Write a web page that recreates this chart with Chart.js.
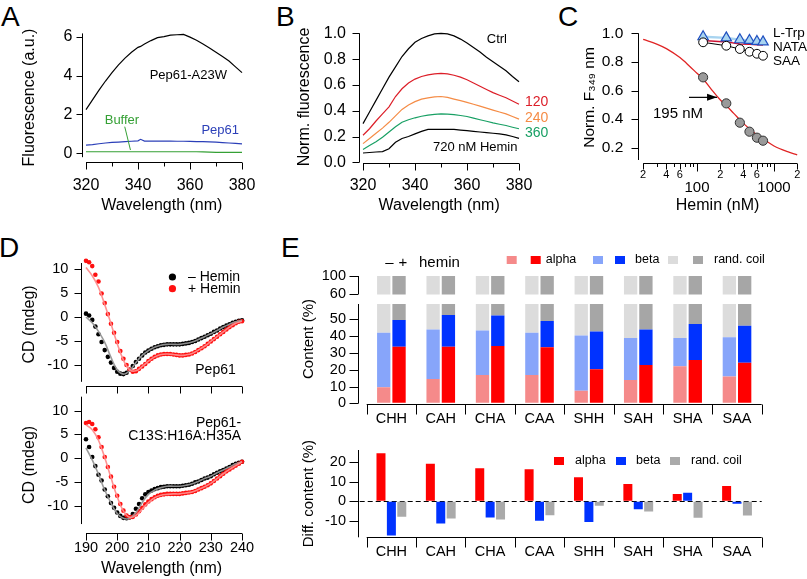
<!DOCTYPE html>
<html><head><meta charset="utf-8">
<script src="https://cdn.jsdelivr.net/npm/chart.js@4.4.1/dist/chart.umd.min.js"></script>
<style>
html,body{margin:0;padding:0;background:#fff}
body{width:807px;height:579px;position:relative;overflow:hidden;font-family:"Liberation Sans",Arial,Helvetica,sans-serif}
canvas{position:absolute}
.pl{position:absolute;font-size:28px;line-height:28px;color:#000}
</style></head><body>
<div class="pl" style="left:1px;top:3px">A</div>
<div class="pl" style="left:276px;top:3px">B</div>
<div class="pl" style="left:558px;top:3px">C</div>
<div class="pl" style="left:-1px;top:234px">D</div>
<div class="pl" style="left:281px;top:234px">E</div>
<canvas id="cA"></canvas><canvas id="cB"></canvas><canvas id="cC"></canvas>
<canvas id="cD1"></canvas><canvas id="cD2"></canvas>
<canvas id="cE1"></canvas><canvas id="cE2"></canvas><canvas id="cE3"></canvas>
<script>
// ================= DATA =================
// Panel A
const A_WL = [320,322.5,325,327.5,330,332.5,335,337.5,340,341,342.5,345,347.5,350,352.5,355,357.5,360,362.5,365,367.5,370,372.5,375,377.5,380];
const A_PEP61_A23W = [2.25,2.75,3.25,3.72,4.15,4.55,4.9,5.2,5.45,5.5,5.62,5.8,5.95,6.0,6.08,6.1,6.12,5.98,5.82,5.62,5.42,5.2,4.98,4.75,4.45,4.15];
const A_PEP61 = [0.42,0.45,0.49,0.53,0.56,0.58,0.6,0.62,0.64,0.72,0.63,0.63,0.63,0.63,0.63,0.62,0.62,0.61,0.6,0.6,0.59,0.57,0.55,0.53,0.51,0.48];
const A_BUFFER = [0.08,0.08,0.08,0.08,0.08,0.08,0.08,0.08,0.08,0.08,0.08,0.08,0.08,0.08,0.08,0.08,0.08,0.08,0.08,0.07,0.06,0.05,0.05,0.05,0.05,0.05];
const A_XTICKS = [320,340,360,380];
const A_XMINOR = [330,350,370];
const A_YTICKS = [0,2,4,6];

// Panel B
const B_WL = [320,322.5,325,327.5,330,332.5,335,337.5,340,342.5,345,347.5,350,352.5,355,357.5,360,362.5,365,367.5,370,372.5,375,377.5,380];
const B_CTRL = [0.30,0.39,0.48,0.57,0.66,0.74,0.82,0.88,0.93,0.96,0.98,0.995,1.0,0.995,0.98,0.955,0.925,0.89,0.855,0.815,0.78,0.745,0.71,0.665,0.625];
const B_120 = [0.21,0.26,0.32,0.375,0.43,0.51,0.57,0.615,0.645,0.665,0.678,0.686,0.69,0.685,0.675,0.66,0.64,0.615,0.59,0.565,0.54,0.52,0.50,0.475,0.45];
const B_240 = [0.145,0.185,0.225,0.265,0.31,0.36,0.41,0.445,0.47,0.49,0.50,0.507,0.51,0.503,0.49,0.478,0.465,0.45,0.435,0.42,0.405,0.39,0.375,0.355,0.335];
const B_360 = [0.10,0.13,0.16,0.195,0.235,0.275,0.31,0.33,0.345,0.357,0.365,0.372,0.375,0.374,0.37,0.363,0.355,0.343,0.33,0.318,0.305,0.295,0.285,0.272,0.26];
const B_720 = [0.072,0.076,0.08,0.083,0.105,0.155,0.185,0.2,0.22,0.24,0.255,0.256,0.255,0.256,0.255,0.25,0.245,0.24,0.235,0.23,0.225,0.22,0.213,0.2,0.185];
const B_XTICKS = [320,340,360,380];
const B_XMINOR = [330,350,370];
const B_YTICKS = [0,0.2,0.4,0.6,0.8,1.0];

// Panel C
const C_CONC = [120,240,360,480,600,720];
const C_PEP61 = [0.692,0.51,0.375,0.312,0.27,0.249];
const C_LTRP = [0.976,0.968,0.955,0.95,0.943,0.94];
const C_NATA = [0.95,0.94,0.925,0.923,0.92,0.918];
const C_SAA = [0.937,0.913,0.89,0.871,0.857,0.843];
const C_FIT_X = [20,30,40,60,80,100,120,150,200,240,300,400,500,600,800,1000,1500,2000];
const C_FIT_Y = [0.957,0.925,0.893,0.83,0.77,0.72,0.68,0.615,0.535,0.495,0.44,0.37,0.325,0.29,0.245,0.212,0.172,0.15];
const C_XTICKS = [20,40,60,100,200,400,600,1000,2000];
const C_XLABELS = ['2','4','6','100','2','4','6','1000','2'];
const C_XMINOR = [30,50,70,80,90,300,500,700,800,900];
const C_YTICKS = [0.2,0.4,0.6,0.8,1.0];

// Panel D
const D_WL = [190,191,192,193,194,195,196,197,198,199,200,201,202,203,204,205,206,207,208,209,210,211,212,213,214,215,216,217,218,219,220,221,222,223,224,225,226,227,228,229,230,231,232,233,234,235,236,237,238,239,240];
const D1_MINUS = [0.7,0.3,-0.6,-2.0,-3.6,-5.2,-6.9,-8.3,-9.5,-10.6,-11.4,-11.8,-11.9,-11.6,-11.0,-10.2,-9.4,-8.7,-8.0,-7.4,-7.0,-6.6,-6.3,-6.1,-5.9,-5.8,-5.7,-5.7,-5.7,-5.7,-5.7,-5.6,-5.5,-5.4,-5.2,-5.0,-4.7,-4.4,-4.1,-3.8,-3.5,-3.1,-2.8,-2.4,-2.1,-1.8,-1.5,-1.2,-1.0,-0.8,-0.7];
const D1_PLUS = [11.7,11.4,10.6,8.8,7.4,4.9,2.9,0.6,-1.4,-3.3,-5.2,-7.1,-8.7,-10.0,-11.0,-11.4,-11.3,-10.8,-10.3,-9.8,-9.2,-8.7,-8.3,-8.0,-7.8,-7.7,-7.7,-7.7,-7.8,-7.9,-8.0,-8.0,-7.9,-7.8,-7.6,-7.3,-6.9,-6.5,-6.1,-5.6,-5.1,-4.6,-4.1,-3.6,-3.1,-2.6,-2.1,-1.7,-1.3,-1.0,-0.9];
const D2_MINUS = [4.0,2.4,0.3,-1.6,-3.4,-4.6,-6.5,-7.9,-9.3,-10.3,-11.3,-12.0,-12.4,-12.5,-12.3,-11.6,-10.5,-9.5,-8.3,-7.5,-7.0,-6.7,-6.4,-6.2,-6.0,-5.9,-5.8,-5.8,-5.8,-5.8,-5.8,-5.7,-5.6,-5.5,-5.3,-5.0,-4.8,-4.5,-4.2,-4.0,-3.7,-3.3,-3.0,-2.7,-2.4,-2.1,-1.8,-1.4,-1.1,-0.9,-0.7];
const D2_PLUS = [7.4,7.6,7.2,6.1,4.4,2.4,0.3,-1.8,-3.8,-5.9,-7.8,-9.5,-10.9,-11.9,-12.3,-12.2,-11.7,-11.0,-10.3,-9.6,-9.0,-8.5,-8.1,-7.8,-7.6,-7.5,-7.4,-7.4,-7.4,-7.4,-7.4,-7.3,-7.2,-7.1,-7.0,-6.8,-6.5,-6.2,-5.9,-5.6,-5.2,-4.7,-4.2,-3.7,-3.2,-2.7,-2.3,-1.9,-1.5,-1.1,-0.7];
const D_FIT_WL = [190,192,194,196,198,200,202,204,206,208,210,212,214,216,218,220,222,224,226,228,230,232,234,236,238,240];
const D1_MINUS_FIT = [0.0,-1.2,-3.0,-5.3,-8.4,-11.0,-11.9,-11.2,-9.5,-8.0,-7.0,-6.3,-5.9,-5.7,-5.7,-5.7,-5.5,-5.2,-4.7,-4.1,-3.5,-2.8,-2.1,-1.5,-1.0,-0.7];
const D1_PLUS_FIT = [10.3,8.6,6.2,2.6,-1.4,-5.5,-9.0,-11.0,-11.2,-10.3,-9.2,-8.3,-7.8,-7.7,-7.8,-8.0,-7.9,-7.6,-6.9,-6.1,-5.1,-4.1,-3.1,-2.1,-1.3,-0.9];
const D2_MINUS_FIT = [2.2,-0.3,-3.3,-6.6,-9.3,-11.5,-12.5,-12.5,-11.3,-9.2,-7.5,-6.6,-6.1,-5.8,-5.8,-5.8,-5.6,-5.3,-4.8,-4.2,-3.7,-3.0,-2.4,-1.8,-1.1,-0.7];
const D2_PLUS_FIT = [7.0,6.0,3.8,0.2,-4.0,-8.0,-11.0,-12.3,-11.9,-10.6,-9.2,-8.2,-7.7,-7.5,-7.4,-7.4,-7.2,-7.0,-6.5,-5.9,-5.2,-4.2,-3.2,-2.3,-1.5,-0.7];
const D_XTICKS = [190,200,210,220,230,240];
const D_YTICKS = [-10,-5,0,5,10];

// Panel E
const E_CATS = ['CHH','CAH','CHA','CAA','SHH','SAH','SHA','SAA'];
const E_ALPHA_MINUS = [9.5,14.5,16.9,16.9,7.5,13.9,22,16];
const E_BETA_MINUS  = [32.5,29.5,26.4,25.1,32.8,25,16.9,23.3];
const E_COIL_MINUS  = [58,56,56.7,58,59.7,61.1,61.1,60.7];
const E_ALPHA_PLUS  = [33.7,33.7,34.1,33.3,20.2,22.8,25.8,24.2];
const E_BETA_PLUS   = [15.9,18.9,18.1,15.7,22.5,21.2,21.4,22];
const E_COIL_PLUS   = [50.4,47.4,47.8,51,57.3,56,52.8,53.8];
const E_DIFF_ALPHA  = [24.3,19,16.7,16.2,12.2,8.8,3.7,7.7];
const E_DIFF_BETA   = [-17.3,-11.2,-8.2,-9.8,-10.5,-4,4.3,-1.3];
const E_DIFF_COIL   = [-7.8,-8.7,-9.2,-7,-2.3,-5.2,-8.3,-7.2];
const E_UPPER_TICKS = [60,100];
const E_LOWER_TICKS = [0,10,20,30,40,50];
const E_DIFF_TICKS  = [-10,0,10,20];

// ================= HELPERS =================
const FONT = "'Liberation Sans', Arial, Helvetica, sans-serif";
Chart.defaults.font.family = FONT;
Chart.defaults.color = '#000';

function ext(v1,p1,v2,p2,p){ return v1 + (p-p1)*(v2-v1)/(p2-p1); }
function extLog(v1,p1,v2,p2,p){ return Math.pow(10, ext(Math.log10(v1),p1,Math.log10(v2),p2,p)); }
function pts(xs, ys){ return xs.map((x,i)=>({x:x, y:ys[i]})); }

function axis(o){
  const a = {
    type:o.type||'linear', min:o.min, max:o.max, display:o.display!==false,
    grid:{display:true, drawOnChartArea:false, drawTicks:true, tickLength:o.pad||0,
      color:'rgba(0,0,0,0)', tickColor:'rgba(0,0,0,0)'},
    border:{display:false},
    ticks:{autoSkip:false, maxRotation:0, minRotation:0, padding:0, color:'#000',
      display:o.labels!==false, font:o.font||{size:o.size||15}},
    title:o.title ? {display:true, text:o.title, color:'#000', font:{size:o.tsize||16},
      padding:{top:o.tpad||0, bottom:o.tpad||0}} : {display:false}
  };
  if (o.stacked) a.stacked = true;
  if (o.ticksAt) a.afterBuildTicks = s => { s.ticks = o.ticksAt.map(v=>({value:v})); };
  if (o.fmt) a.ticks.callback = o.fmt;
  return a;
}

function igor(box, cfg){
  return {
    id:'igor',
    beforeDatasetsDraw(chart){
      if(!cfg.zero) return;
      const ctx=chart.ctx, ca=chart.chartArea, ys=chart.scales.y;
      const y=Math.round(ys.getPixelForValue(0))+0.5;
      ctx.save(); ctx.strokeStyle='#000'; ctx.lineWidth=1; ctx.setLineDash([5,3]);
      ctx.beginPath(); ctx.moveTo(ca.left-cfg.zero.lead,y); ctx.lineTo(ca.right,y); ctx.stroke(); ctx.restore();
    },
    afterDraw(chart){
      const ctx=chart.ctx, ca=chart.chartArea, xs=chart.scales.x, ys=chart.scales.y;
      const R=v=>Math.round(v)+0.5;
      const seg=(a,b,c,d)=>{ctx.beginPath();ctx.moveTo(a,b);ctx.lineTo(c,d);ctx.stroke();};
      ctx.save(); ctx.strokeStyle='#000'; ctx.fillStyle='#000'; ctx.lineWidth=1;
      const ya=cfg.y;
      if(ya){
        const x=R(ca.left-(ya.off||0));
        const y1=ya.from!=null?ys.getPixelForValue(ya.from):ca.bottom;
        const y2=ya.to!=null?ys.getPixelForValue(ya.to):ca.top;
        seg(x,y1,x,y2);
        ya.ticks.forEach(v=>{const y=R(ys.getPixelForValue(v)); seg(x,y,x-ya.len,y);});
      }
      const xa=cfg.x;
      if(xa){
        const y=R(ca.bottom+(xa.off||0));
        const x1=xa.from!=null?xs.getPixelForValue(xa.from):ca.left;
        const x2=xa.to!=null?xs.getPixelForValue(xa.to):ca.right;
        seg(x1,y,x2,y);
        xa.ticks.forEach(t=>{const x=R(xs.getPixelForValue(t[0])); seg(x,y,x,y+t[1]);});
      }
      (cfg.items||[]).forEach(it=>{
        const px=it.gx!=null?it.gx-box.l:xs.getPixelForValue(it.x);
        const py=it.gy!=null?it.gy-box.t:ys.getPixelForValue(it.y);
        ctx.fillStyle=ctx.strokeStyle=it.color||'#000';
        if(it.t!=null){
          ctx.font=(it.size||13)+'px '+FONT;
          ctx.textAlign=it.align||'left'; ctx.textBaseline='middle';
          if(it.rot){ctx.save();ctx.translate(px,py);ctx.rotate(it.rot);ctx.fillText(it.t,0,0);ctx.restore();}
          else ctx.fillText(it.t,px,py);
        } else if(it.dot){
          ctx.beginPath(); ctx.arc(px,py,it.dot,0,Math.PI*2); ctx.fill();
        } else if(it.rect){
          ctx.fillRect(px,py,it.rect[0],it.rect[1]);
        } else if(it.to){
          const qx=it.to.gx!=null?it.to.gx-box.l:xs.getPixelForValue(it.to.x);
          const qy=it.to.gy!=null?it.to.gy-box.t:ys.getPixelForValue(it.to.y);
          ctx.lineWidth=it.w||1; seg(px,py,qx,qy);
          if(it.arrow){
            const a=Math.atan2(qy-py,qx-px), L=it.arrow[0], W=it.arrow[1];
            const bx=qx-L*Math.cos(a), by=qy-L*Math.sin(a);
            ctx.beginPath(); ctx.moveTo(qx,qy);
            ctx.lineTo(bx+W*Math.sin(a), by-W*Math.cos(a));
            ctx.lineTo(bx-W*Math.sin(a), by+W*Math.cos(a));
            ctx.closePath(); ctx.fill();
          }
          ctx.lineWidth=1;
        }
      });
      ctx.restore();
    }
  };
}

function mk(id, box, area, config, plug){
  const cv=document.getElementById(id);
  cv.width=box.w; cv.height=box.h; cv.style.left=box.l+'px'; cv.style.top=box.t+'px';
  const o=config.options;
  o.responsive=false; o.maintainAspectRatio=false; o.animation=false; o.events=[];
  o.plugins={legend:{display:false}, tooltip:{enabled:false}};
  const xHidden=o.scales.x.display===false;
  o.layout={padding:{left:0, top:area.t-box.t, right:box.l+box.w-area.r, bottom:xHidden?box.t+box.h-area.b:0}};
  const yw=area.l-box.l, xh=box.t+box.h-area.b;
  o.scales.y.afterFit=s=>{s.width=yw;};
  if(!xHidden) o.scales.x.afterFit=s=>{s.height=xh;};
  config.plugins=[igor(box, plug)];
  return new Chart(cv, config);
}
function line(xs, ys, color, w, extra){
  return Object.assign({data:pts(xs,ys), showLine:true, borderColor:color, borderWidth:w||1.2,
    pointRadius:0, pointHoverRadius:0, fill:false, tension:0, clip:false}, extra||{});
}
function dots(xs, ys, color, r, extra){
  return Object.assign({data:pts(xs,ys), showLine:false, pointRadius:r, pointHoverRadius:r,
    pointBackgroundColor:color, pointBorderColor:color, pointBorderWidth:0, clip:false}, extra||{});
}

// ================= PANEL A =================
(function(){
  const box={l:0,t:0,w:265,h:216}, area={l:81.5,t:33,r:242,b:162};
  mk('cA', box, area, {
    type:'scatter',
    data:{datasets:[
      line(A_WL, A_PEP61_A23W, '#000', 1.2),
      line(A_WL, A_PEP61, '#2b3fb8', 1.2),
      line(A_WL, A_BUFFER, '#35a035', 1.2)
    ]},
    options:{scales:{
      x:axis({min:ext(320,86,380,242,area.l), max:380, ticksAt:A_XTICKS, size:16, pad:14.4, title:'Wavelength (nm)', tpad:0.4}),
      y:axis({min:ext(0,153.3,6,36.7,area.b), max:ext(0,153.3,6,36.7,area.t), ticksAt:A_YTICKS, size:16, pad:9, title:'Fluorescence (a.u.)', tpad:20.4})
    }}
  }, {
    y:{from:-0.2, to:6.17, ticks:A_YTICKS, len:6},
    x:{from:320, to:380, ticks:A_XTICKS.map(v=>[v,7]).concat(A_XMINOR.map(v=>[v,4]))},
    items:[
      {t:'Pep61-A23W', x:344.5, y:4.03, size:13},
      {t:'Buffer', x:327.2, y:1.71, size:13, color:'#35a035'},
      {x:334.9, y:1.37, to:{x:337.1, y:0.17}, color:'#35a035'},
      {t:'Pep61', x:364.4, y:1.2, size:13, color:'#2b3fb8'}
    ]
  });
})();

// ================= PANEL B =================
(function(){
  const box={l:262,t:0,w:290,h:216}, area={l:359.3,t:31,r:519,b:163};
  mk('cB', box, area, {
    type:'scatter',
    data:{datasets:[
      line(B_WL, B_CTRL, '#000', 1.2),
      line(B_WL, B_120, '#dc1e28', 1.2),
      line(B_WL, B_240, '#f58c46', 1.2),
      line(B_WL, B_360, '#18a064', 1.2),
      line(B_WL, B_720, '#000', 1.2)
    ]},
    options:{scales:{
      x:axis({min:ext(320,363,380,519,area.l), max:380, ticksAt:B_XTICKS, size:16, pad:12.9, title:'Wavelength (nm)', tpad:0.4}),
      y:axis({min:ext(0,162.3,1,33.3,area.b), max:ext(0,162.3,1,33.3,area.t), ticksAt:B_YTICKS, size:16, pad:13.3, fmt:v=>v.toFixed(1), title:'Norm. fluorescence', tpad:33.4})
    }}
  }, {
    y:{from:0, to:1.0, ticks:B_YTICKS, len:7},
    x:{from:320, to:380, ticks:B_XTICKS.map(v=>[v,7]).concat(B_XMINOR.map(v=>[v,4]))},
    items:[
      {t:'Ctrl', x:367.6, y:0.956, size:13},
      {t:'120', x:382.3, y:0.47, size:14, color:'#dc1e28'},
      {t:'240', x:382.3, y:0.343, size:14, color:'#f58c46'},
      {t:'360', x:382.3, y:0.227, size:14, color:'#18a064'},
      {t:'720 nM Hemin', x:346.9, y:0.115, size:13}
    ]
  });
})();

// ================= PANEL C =================
(function(){
  const box={l:545,t:0,w:262,h:216}, area={l:638,t:32,r:797.2,b:163};
  const big=[100,1000];
  mk('cC', box, area, {
    type:'scatter',
    data:{datasets:[
      dots(C_CONC, C_PEP61, '#9a9a9a', 4.6, {pointBorderColor:'#333', pointBorderWidth:1, order:1}),
      line(C_CONC, C_SAA, '#000', 1, {pointRadius:4.4, pointBackgroundColor:'#fff', pointBorderColor:'#000', pointBorderWidth:1, order:2}),
      line(C_CONC, C_LTRP, '#a8d4f0', 2.5, {pointStyle:'triangle', pointRadius:6, pointBackgroundColor:'#a8d4f0', pointBorderColor:'#2050c0', pointBorderWidth:1.2, order:3}),
      line(C_CONC, C_NATA, '#cc1133', 1.5, {order:4}),
      line(C_FIT_X, C_FIT_Y, '#e02424', 1.3, {cubicInterpolationMode:'monotone', order:5})
    ]},
    options:{scales:{
      x:axis({type:'logarithmic', min:extLog(100,697,1000,774,area.l), max:2000, ticksAt:C_XTICKS, pad:5.4,
        font:ctx=>(ctx.tick && big.indexOf(ctx.tick.value)>=0)?{size:15, lineHeight:0.85}:{size:11},
        fmt:(v)=>{const i=C_XTICKS.indexOf(v); const s=C_XLABELS[i]; return big.indexOf(v)>=0?['',s]:s;},
        title:'Hemin (nM)', tpad:0.4}),
      y:axis({min:ext(1,33.3,0.2,147.7,area.b), max:ext(1,33.3,0.2,147.7,area.t), ticksAt:C_YTICKS, size:15.5, pad:14.7, fmt:v=>v.toFixed(1), title:'Norm. F\u2083\u2084\u2089 nm', tsize:15.5, tpad:35.7})
    }}
  }, {
    y:{from:0.114, to:1.0, ticks:C_YTICKS, len:7},
    x:{from:20, to:2000, ticks:C_XTICKS.map(v=>[v, big.indexOf(v)>=0?8:6]).concat(C_XMINOR.map(v=>[v,3.5]))},
    items:[
      {t:'L-Trp', x:970, y:1.002, size:13.5},
      {t:'NATA', x:970, y:0.904, size:13.5},
      {t:'SAA', x:970, y:0.806, size:13.5},
      {t:'195 nM', x:26.8, y:0.436, size:15},
      {x:78.7, y:0.552, to:{x:182, y:0.552}, w:1.2, arrow:[10,3.5]}
    ]
  });
})();

// ================= PANEL D =================
(function(){
  const box={l:0,t:250,w:262,h:145}, area={l:81,t:263,r:242,b:386};
  mk('cD1', box, area, {
    type:'scatter',
    data:{datasets:[
      line(D_FIT_WL, D1_PLUS_FIT, 'rgba(255,140,140,0.95)', 1.6, {tension:0.4, order:1}),
      line(D_FIT_WL, D1_MINUS_FIT, 'rgba(150,150,150,0.95)', 1.6, {tension:0.4, order:2}),
      dots(D_WL, D1_PLUS, '#ff1010', 2.3, {order:3}),
      dots(D_WL, D1_MINUS, '#000', 2.3, {order:4})
    ]},
    options:{scales:{
      x:axis({min:ext(190,86,240,242,area.l), max:240, ticksAt:D_XTICKS, labels:false}),
      y:axis({min:ext(10,269,-10,365,area.b), max:ext(10,269,-10,365,area.t), ticksAt:D_YTICKS, size:14.5, pad:12.7, title:'CD (mdeg)', tpad:20.4})
    }}
  }, {
    y:{from:-13.5, to:11.25, ticks:D_YTICKS, len:7},
    x:{from:190, to:240, ticks:D_XTICKS.map(v=>[v,7])},
    items:[
      {dot:3.6, x:217.7, y:8.33, color:'#000'},
      {t:'\u2013 Hemin', x:222.7, y:8.33, size:14},
      {dot:3.6, x:217.7, y:5.9, color:'#ff1010'},
      {t:'+ Hemin', x:222.7, y:5.9, size:14},
      {t:'Pep61', x:238, y:-11.1, size:14, align:'right'}
    ]
  });
})();
(function(){
  const box={l:0,t:388,w:262,h:191}, area={l:81,t:395,r:242,b:533.3};
  mk('cD2', box, area, {
    type:'scatter',
    data:{datasets:[
      line(D_FIT_WL, D2_PLUS_FIT, 'rgba(255,140,140,0.95)', 1.6, {tension:0.4, order:1}),
      line(D_FIT_WL, D2_MINUS_FIT, 'rgba(150,150,150,0.95)', 1.6, {tension:0.4, order:2}),
      dots(D_WL, D2_PLUS, '#ff1010', 2.3, {order:3}),
      dots(D_WL, D2_MINUS, '#000', 2.3, {order:4})
    ]},
    options:{scales:{
      x:axis({min:ext(190,86,240,242,area.l), max:240, ticksAt:D_XTICKS, size:14.5, pad:5.5, title:'Wavelength (nm)', tpad:0.4}),
      y:axis({min:ext(10,409,-10,506,area.b), max:ext(10,409,-10,506,area.t), ticksAt:D_YTICKS, size:14.5, pad:12.7, title:'CD (mdeg)', tpad:20.4})
    }}
  }, {
    y:{from:-13.7, to:12.89, ticks:D_YTICKS, len:7},
    x:{from:190, to:240, ticks:D_XTICKS.map(v=>[v,7])},
    items:[
      {t:'Pep61-', x:239.7, y:7.38, size:14, align:'right'},
      {t:'C13S:H16A:H35A', x:239.7, y:4.64, size:14, align:'right'}
    ]
  });
})();

// ================= PANEL E =================
function eStack(){
  return [
    {data:E_ALPHA_MINUS, stack:'m', backgroundColor:'#f58a8a'},
    {data:E_BETA_MINUS,  stack:'m', backgroundColor:'#87a5fa'},
    {data:E_COIL_MINUS,  stack:'m', backgroundColor:'#dcdcdc'},
    {data:E_ALPHA_PLUS,  stack:'p', backgroundColor:'#ff0000'},
    {data:E_BETA_PLUS,   stack:'p', backgroundColor:'#0032ff'},
    {data:E_COIL_PLUS,   stack:'p', backgroundColor:'#a6a6a6'}
  ].map(d=>Object.assign(d,{categoryPercentage:0.62, barPercentage:0.87, borderWidth:0, clip:0}));
}
const E_BOUNDS = [-0.5,0.5,1.5,2.5,3.5,4.5,5.5,6.5,7.5];
(function(){
  const box={l:262,t:245,w:545,h:59}, area={l:366.7,t:276,r:761.7,b:294.5};
  mk('cE1', box, area, {
    type:'bar',
    data:{labels:E_CATS, datasets:eStack()},
    options:{scales:{
      x:axis({type:'category', display:false, stacked:true}),
      y:axis({min:ext(100,276,60,294,area.b), max:100, ticksAt:E_UPPER_TICKS, size:14.5, pad:20.7, stacked:true})
    }}
  }, {
    y:{off:8.7, from:60, to:100, ticks:E_UPPER_TICKS, len:9},
    items:[
      {t:'\u2013', gx:389.5, gy:262.7, size:15, align:'center'},
      {t:'+', gx:403, gy:262.7, size:15, align:'center'},
      {t:'hemin', gx:419, gy:262.7, size:15},
      {rect:[10,8], gx:506.7, gy:256, color:'#f58a8a'},
      {rect:[10,8], gx:530.7, gy:256, color:'#ff0000'},
      {t:'alpha', gx:545.7, gy:260, size:12.5},
      {rect:[10,8], gx:593, gy:256, color:'#87a5fa'},
      {rect:[10,8], gx:615, gy:256, color:'#0032ff'},
      {t:'beta', gx:635, gy:260, size:12.5},
      {rect:[10,8], gx:668, gy:256, color:'#dcdcdc'},
      {rect:[10,8], gx:693, gy:256, color:'#a6a6a6'},
      {t:'rand. coil', gx:714, gy:260, size:12.5}
    ]
  });
})();
(function(){
  const box={l:262,t:286,w:545,h:142}, area={l:366.7,t:304,r:761.7,b:403.5};
  mk('cE2', box, area, {
    type:'bar',
    data:{labels:E_CATS, datasets:eStack()},
    options:{scales:{
      x:axis({type:'category', size:14.5, pad:6.3, stacked:true}),
      y:axis({min:ext(0,403.3,50,319.3,area.b), max:ext(0,403.3,50,319.3,area.t), ticksAt:E_LOWER_TICKS, size:14.5, pad:20.7, stacked:true})
    }}
  }, {
    y:{off:8.7, from:0, to:null, ticks:E_LOWER_TICKS, len:9},
    x:{ticks:E_BOUNDS.map(v=>[v,10])},
    items:[
      {t:'Content (%)', gx:309, gy:339, size:15, align:'center', rot:-Math.PI/2}
    ]
  });
})();
(function(){
  const box={l:262,t:440,w:545,h:139}, area={l:366.7,t:450,r:761.7,b:537.3};
  const o={categoryPercentage:0.632, barPercentage:0.865, borderWidth:0};
  mk('cE3', box, area, {
    type:'bar',
    data:{labels:E_CATS, datasets:[
      Object.assign({data:E_DIFF_ALPHA, backgroundColor:'#ff0000'}, o),
      Object.assign({data:E_DIFF_BETA,  backgroundColor:'#0032ff'}, o),
      Object.assign({data:E_DIFF_COIL,  backgroundColor:'#aaaaaa'}, o)
    ]},
    options:{scales:{
      x:axis({type:'category', size:14.5, pad:6}),
      y:axis({min:ext(20,461.7,0,501.3,area.b), max:ext(20,461.7,0,501.3,area.t), ticksAt:E_DIFF_TICKS, size:14.5, pad:20.7, title:'Diff. content (%)', tsize:15, tpad:38})
    }}
  }, {
    zero:{lead:7},
    y:{off:8.7, from:null, to:null, ticks:E_DIFF_TICKS, len:9},
    x:{ticks:E_BOUNDS.map(v=>[v,10])},
    items:[
      {rect:[10,8], gx:554, gy:457, color:'#ff0000'},
      {t:'alpha', gx:575, gy:461, size:12.5},
      {rect:[10,8], gx:616, gy:457, color:'#0032ff'},
      {t:'beta', gx:636, gy:461, size:12.5},
      {rect:[10,8], gx:670, gy:457, color:'#aaaaaa'},
      {t:'rand. coil', gx:691, gy:461, size:12.5}
    ]
  });
})();
</script>
</body></html>
